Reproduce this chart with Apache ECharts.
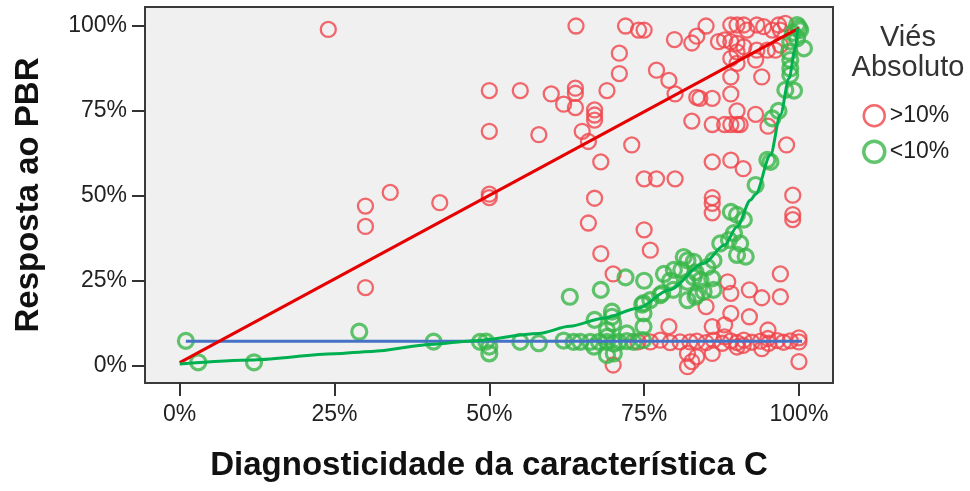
<!DOCTYPE html>
<html lang="pt">
<head>
    <meta charset="utf-8">
    <title>Resposta ao PBR</title>
</head>
<body style="margin: 0">
    <div id="container" style="width:970px;height:491px"></div>
    <script src="https://cdn.jsdelivr.net/npm/echarts@6/dist/echarts.min.js"></script>
    <script>
    // ticks (%)
    var tickValues = [0, 25, 50, 75, 100];

    // Viés >10% (red circles) [x, y]
    var redPoints = [
        [24,99],[30,47],[30,41],[30,23],[34,51],[42,48],[50,50.5],[50,49.5],[50,81],[55,81],
        [50,69],[58,68],[60,80],[62,77],[64,100],[63.9,81.7],[63.9,80.2],[63.9,76],[67,75.3],[67,73.8],
        [67,72.3],[69,81],[65,69],[66,66],[73,65],[68,60],[75,55],[77,55],[80,55],[67,49.3],
        [66,42],[75,40],[76,34],[68,33],[70,27],[79,11.5],[70,0.2],
        [72,100],[74.1,98.8],[75,98.8],[71,92],[71,86],[77,87],[79,84],[80,80],[79.9,96],
        [82.7,95],[83.5,97],[85,100],[83.5,79],[87,95.4],[88,95.9],[89,100.3],[90,100.3],[91.1,100.3],[91.6,98.8],
        [89,95.4],[90,94.9],[91.1,93.9],[90,92.4],[89,90.5],[90,89],[93.2,100.3],[94.3,99.8],[95.7,98.8],[97,98.8],
        [96.7,100.3],[97.8,100.8],[93.2,92.9],[94.9,92.9],[96.2,92.9],[97,94.4],[93,90],[89,85],[89,80],[84,78.7],
        [86,78.7],[94,85],[90,75],[93,74],[82.7,72],[86,71],[88,71],[89,71],[90,71],[90.5,71],
        [95,70.5],[98,65],[86,60],[89,60.5],[91,58],[86,49.5],[86,47.8],[86,45],[99,50.2],[99,44.5],[99,43],
        [97,27],[88.5,24.7],[89,21.3],[92,22.3],[94,20],[97,20.3],[85,17.4],[89,15.4],[92,14.4],[86,11.5],
        [88,12],[95,10.5],[100,8.2],[86,3.6],[94,5],[100,1.2],[82,3.6],[82,-0.3],[82.7,1.2],[83.5,2.6],
        [74,7],[76,7],[77.6,7.5],[79.2,6.8],[80.8,7],[82.4,7],[83.5,7.2],[85,6.8],[86.2,7.5],[87.6,6.6],
        [89,7.3],[90,6.8],[91.1,7.5],[92.4,6.9],[93.8,7.2],[95.1,6.6],[96.5,7.4],[97.5,6.9],[98.6,7.3],[100,7],
        [88,8.5],[91,6],[95,8],[90,5.5]
    ];

    // Viés <10% (green circles) [x, y]
    var greenPoints = [
        [1,7.3],[3,1],[12,1],[29,10],[41,7.1],[48.5,7],[49.5,7.1],[50,5.6],[50,3.6],[55,7],
        [58,6.6],[62,7.4],[63,20.3],[63.6,7],[64.7,7],[66.3,7],[67.7,7],[69,7],[70.1,6.5],[70.9,7],
        [72.2,7.2],[73.3,7],[74.8,7.5],[66.9,5.6],[69,3.1],[70.1,3.6],[68,22.3],[67,13.5],[69.8,15.9],[69.8,14.4],
        [70,12.5],[69,10.5],[69,8.5],[72.2,9.5],[72,26],[75,25],[74.9,18.4],[74.9,15.4],[74.9,11.5],[74.7,18],
        [76,19.3],[77.6,20.8],[77.9,21.3],[78.2,27],[79.8,28.2],[81,28.2],[82,31],[79.2,25],[82,24.7],[83,26],
        [83.3,27.5],[82,19.3],[83,30.6],[84.1,25.2],[86,25.7],[86.2,22.3],[84.6,21.8],[83.3,20.3],[86.2,31],[85.2,29],
        [81.4,32],[79.7,22.3],[83.5,21],
        [87.3,36],[88.7,37],[89.5,39],[90.5,36],[90,32.6],[91.4,32.1],[89,45.3],[90,44.4],[91.1,43],[93,53.2],
        [94.9,60.6],[95.4,60],[95.7,72.8],[96.7,75],[97.8,81.2],[99.2,81],[98.6,85.6],[98.6,87.5],[98.6,90],[98.4,92.4],
        [98.6,95.4],[99.7,96.4],[100.8,93.4],[100.2,98.8],[99.7,100.3],[100,99.5],[99,98]
    ];

    // fit lines
    var redLine = [[0, 0.9], [100, 99.4]];
    var blueLine = [[1, 7.2], [100.5, 7.2]];
    var greenCurve = [
        [0,0.5],[12,1.7],[25,3.5],[31,4.2],[41,6.3],[47,7.3],[58,9.5],[63,11.6],[68.5,14],[74,16.9],
        [79,22.3],[84.6,30.1],[88,35.5],[90,40.9],[92.2,48.8],[93,50.5],[95.4,62],[97,73.8],[98.4,84.6],[99.4,93.4],[99.8,99.3]
    ];

    var FONT = "'Liberation Sans', Arial, sans-serif";
    var RED = '#f0434a';
    var GREEN = '#38b648';

    var myChart = echarts.init(document.getElementById('container'), null, { renderer: 'canvas' });

    var pct = function (v) { return v + '%'; };

    var option = {
        animation: false,
        backgroundColor: '#fff',
        textStyle: { fontFamily: FONT },
        grid: {
            left: 145, right: 137, top: 7, bottom: 108,
            show: true,
            backgroundColor: '#f0f0f0',
            borderColor: '#3a3a3a',
            borderWidth: 2
        },
        xAxis: {
            type: 'value',
            min: -5.6, max: 105.5,
            name: 'Diagnosticidade da característica C',
            nameLocation: 'middle',
            nameGap: 66,
            nameTextStyle: { fontSize: 33, fontWeight: 'bold', color: '#111', fontFamily: FONT },
            axisLine: { show: false, onZero: false },
            splitLine: { show: false },
            axisTick: { show: true, length: 13, customValues: tickValues, lineStyle: { color: '#333', width: 2 } },
            axisLabel: { customValues: tickValues, formatter: pct, margin: 20, fontSize: 23, color: '#222', fontFamily: FONT }
        },
        yAxis: {
            type: 'value',
            min: -5.1, max: 105.6,
            name: 'Resposta ao PBR',
            nameLocation: 'middle',
            nameRotate: 90,
            nameGap: 100,
            nameTextStyle: { fontSize: 33, fontWeight: 'bold', color: '#111', fontFamily: FONT },
            axisLine: { show: false, onZero: false },
            splitLine: { show: false },
            axisTick: { show: true, length: 13, customValues: tickValues, lineStyle: { color: '#333', width: 2 } },
            axisLabel: { customValues: tickValues, formatter: pct, margin: 18, fontSize: 23, color: '#222', fontFamily: FONT }
        },
        graphic: [{
            type: 'text',
            x: 908, y: 23,
            style: {
                text: 'Viés\nAbsoluto',
                fontSize: 29,
                lineHeight: 30,
                align: 'center',
                fill: '#333',
                fontFamily: FONT
            }
        }],
        legend: {
            orient: 'vertical',
            left: 862, top: 104,
            itemWidth: 21, itemHeight: 21,
            itemGap: 12,
            padding: 0,
            textStyle: { fontSize: 23, color: '#222', fontFamily: FONT },
            data: [
                { name: '>10%', icon: 'circle', itemStyle: { color: 'transparent', borderColor: RED, borderWidth: 2.5 } },
                { name: '<10%', icon: 'circle', itemStyle: { color: 'transparent', borderColor: GREEN, borderWidth: 3.5 } }
            ]
        },
        series: [
            {
                name: '>10%',
                type: 'scatter',
                symbol: 'circle',
                symbolSize: 15,
                itemStyle: { color: 'transparent', borderColor: RED, borderWidth: 2.3 },
                data: redPoints
            },
            {
                name: '<10%',
                type: 'scatter',
                symbol: 'circle',
                symbolSize: 15,
                itemStyle: { color: 'transparent', borderColor: GREEN, borderWidth: 3.2 },
                data: greenPoints
            },
            {
                type: 'line',
                symbol: 'none',
                lineStyle: { color: '#4472c4', width: 3 },
                data: blueLine
            },
            {
                type: 'line',
                symbol: 'none',
                lineStyle: { color: '#e60000', width: 3 },
                data: redLine
            },
            {
                type: 'line',
                symbol: 'none',
                smooth: 0.3,
                smoothMonotone: 'x',
                lineStyle: { color: '#00b050', width: 3 },
                data: greenCurve
            }
        ]
    };

    myChart.setOption(option);
    window.addEventListener('resize', myChart.resize);
    </script>
</body>
</html>
